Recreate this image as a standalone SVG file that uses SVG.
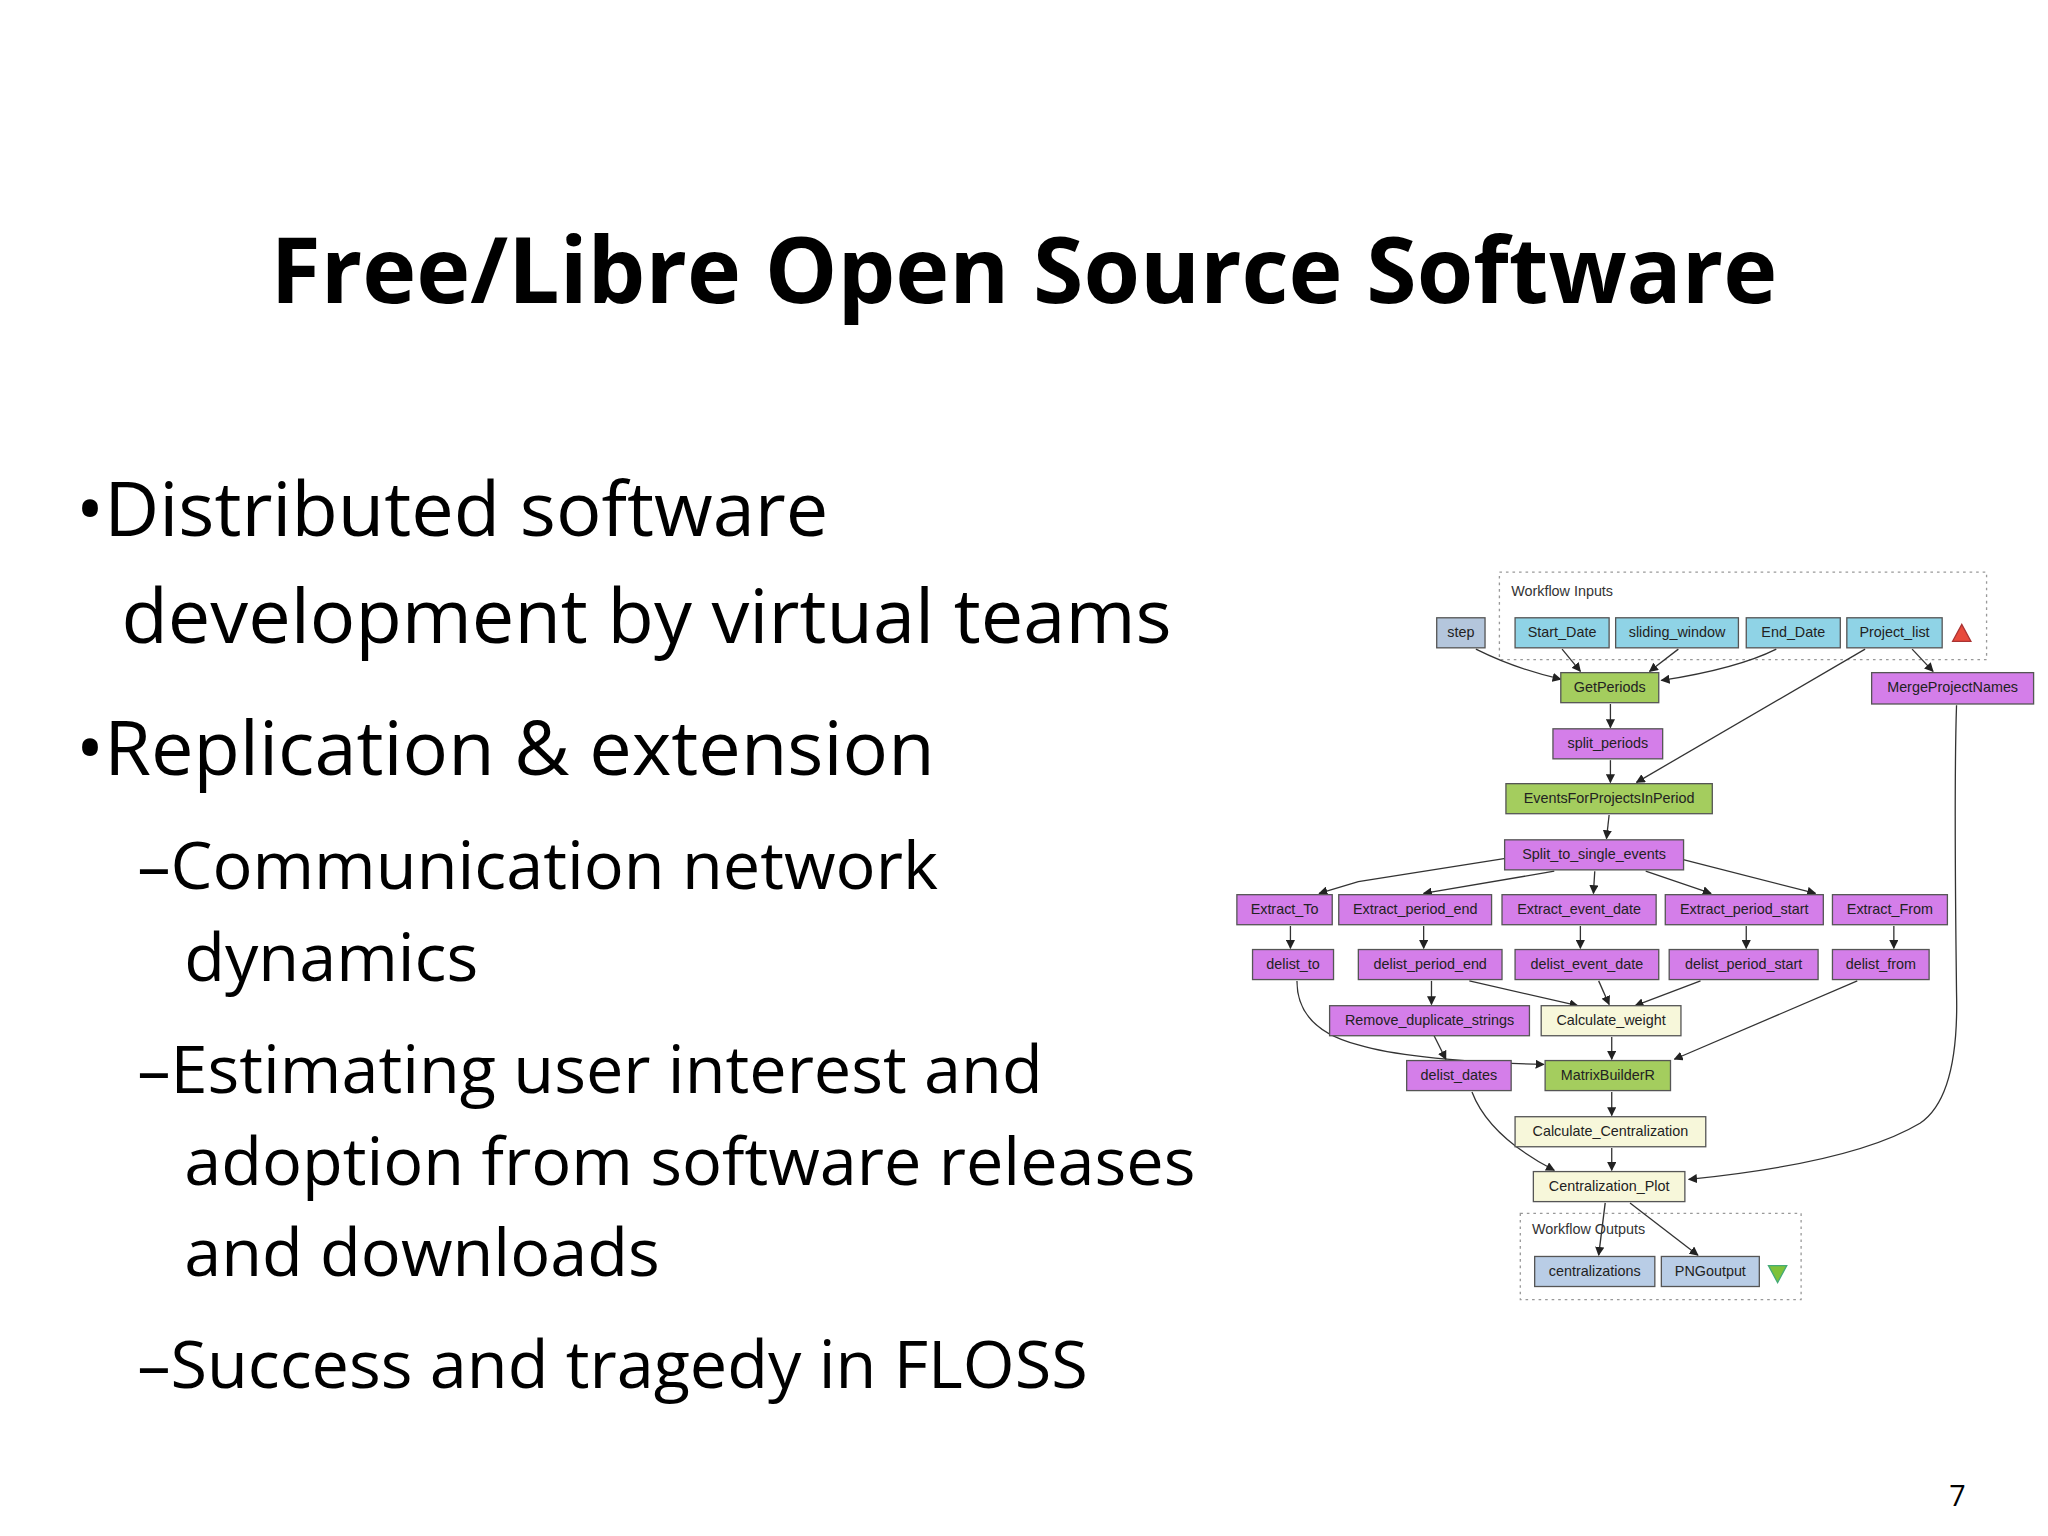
<svg xmlns="http://www.w3.org/2000/svg" width="2048" height="1536" viewBox="0 0 2048 1536">
<style>
.t{font-family:"Open Sans","Noto Sans",sans-serif;fill:#000}
.n rect{stroke:#555;stroke-width:1}
.n text{font-family:"Liberation Sans",Arial,sans-serif;font-size:11px;fill:#222;text-anchor:middle}
.in rect{fill:#8fd3e6}.st rect{fill:#b4c6dc}.g rect{fill:#a4cd5e}.m rect{fill:#d47ee9}.y rect{fill:#f7f7da}.o rect{fill:#b9cde6}
.e path{fill:none;stroke:#333;stroke-width:1;marker-end:url(#a)}
.cl{fill:none;stroke:#999;stroke-width:1;stroke-dasharray:2 3}
</style>
<defs><marker id="a" viewBox="0 0 10 10" refX="9" refY="5" markerWidth="7" markerHeight="7" orient="auto" markerUnits="userSpaceOnUse"><path d="M0,0L10,5L0,10z" fill="#222"/></marker></defs>
<rect width="2048" height="1536" fill="#fff"/>
<g transform="scale(1.3061)">
<text class="t" x="784" y="232" font-size="70" font-weight="bold" text-anchor="middle">Free/Libre Open Source Software</text>
<g class="t" font-size="58">
<text x="58" y="410">•Distributed software</text>
<text x="93" y="492">development by virtual teams</text>
<text x="58" y="593">•Replication &amp; extension</text>
</g>
<g class="t" font-size="51">
<text x="105" y="681">–Communication network</text>
<text x="141" y="751">dynamics</text>
<text x="105" y="837">–Estimating user interest and</text>
<text x="141" y="907">adoption from software releases</text>
<text x="141" y="977">and downloads</text>
<text x="105" y="1063">–Success and tragedy in FLOSS</text>
</g>
<text class="t" x="1505" y="1153" font-size="22" text-anchor="end">7</text>

<g id="clusters">
<rect class="cl" x="1148" y="438" width="373" height="67"/>
<text x="1157" y="456" font-family="Liberation Sans,Arial,sans-serif" font-size="11" fill="#333">Workflow Inputs</text>
<rect class="cl" x="1164" y="929" width="215" height="66"/>
<text x="1173" y="945" font-family="Liberation Sans,Arial,sans-serif" font-size="11" fill="#333">Workflow Outputs</text>
<path d="M1495,491L1502,478L1509,491z" fill="#e84a3c" stroke="#a33"/>
<path d="M1354,969L1368,969L1361,982z" fill="#7ec23a" stroke="#4a7"/>
</g>

<g class="e" id="edges">
<path d="M1130,497Q1160,512 1195,520"/>
<path d="M1196,497L1210,514"/>
<path d="M1285,497L1263,514"/>
<path d="M1360,497Q1330,512 1272,521"/>
<path d="M1464,497L1480,514"/>
<path d="M1428,497L1253,599"/>
<path d="M1233,539L1233,557"/>
<path d="M1233,582L1233,599"/>
<path d="M1232,624L1230,642"/>
<path d="M1160,656L1040,675L1010,684"/>
<path d="M1190,667L1090,684"/>
<path d="M1221,667L1220,684"/>
<path d="M1260,667L1310,684"/>
<path d="M1288,658L1390,684"/>
<path d="M988,709L988,726"/>
<path d="M1090,709L1090,726"/>
<path d="M1210,709L1210,726"/>
<path d="M1337,709L1337,726"/>
<path d="M1450,709L1450,726"/>
<path d="M993,751Q993,788 1040,800Q1080,812 1182,815"/>
<path d="M1096,751L1096,769"/>
<path d="M1125,751L1208,770"/>
<path d="M1224,751L1232,769"/>
<path d="M1302,751L1252,770"/>
<path d="M1422,751L1282,811"/>
<path d="M1098,793L1107,811"/>
<path d="M1234,794L1234,811"/>
<path d="M1234,836L1234,854"/>
<path d="M1234,879L1234,896"/>
<path d="M1127,836Q1140,870 1190,896"/>
<path d="M1498,540Q1496,600 1498,760Q1500,840 1470,860Q1420,890 1293,903"/>
<path d="M1229,921L1224,961"/>
<path d="M1248,921L1300,961"/>
</g>

<g id="nodes">
<g id="step" class="n st"><rect x="1100" y="473" width="37" height="23"/><text x="1118.5" y="488">step</text></g>
<g id="Start_Date" class="n in"><rect x="1160" y="473" width="72" height="23"/><text x="1196" y="488">Start_Date</text></g>
<g id="sliding_window" class="n in"><rect x="1237" y="473" width="94" height="23"/><text x="1284" y="488">sliding_window</text></g>
<g id="End_Date" class="n in"><rect x="1337" y="473" width="72" height="23"/><text x="1373" y="488">End_Date</text></g>
<g id="Project_list" class="n in"><rect x="1414" y="473" width="73" height="23"/><text x="1450.5" y="488">Project_list</text></g>
<g id="GetPeriods" class="n g"><rect x="1195" y="515" width="75" height="23"/><text x="1232.5" y="530">GetPeriods</text></g>
<g id="MergeProjectNames" class="n m"><rect x="1433" y="515" width="124" height="24"/><text x="1495" y="530">MergeProjectNames</text></g>
<g id="split_periods" class="n m"><rect x="1189" y="558" width="84" height="23"/><text x="1231" y="573">split_periods</text></g>
<g id="EventsForProjectsInPeriod" class="n g"><rect x="1153" y="600" width="158" height="23"/><text x="1232" y="615">EventsForProjectsInPeriod</text></g>
<g id="Split_to_single_events" class="n m"><rect x="1152" y="643" width="137" height="23"/><text x="1220.5" y="658">Split_to_single_events</text></g>
<g id="Extract_To" class="n m"><rect x="947" y="685" width="73" height="23"/><text x="983.5" y="700">Extract_To</text></g>
<g id="Extract_period_end" class="n m"><rect x="1025" y="685" width="117" height="23"/><text x="1083.5" y="700">Extract_period_end</text></g>
<g id="Extract_event_date" class="n m"><rect x="1150" y="685" width="118" height="23"/><text x="1209" y="700">Extract_event_date</text></g>
<g id="Extract_period_start" class="n m"><rect x="1275" y="685" width="121" height="23"/><text x="1335.5" y="700">Extract_period_start</text></g>
<g id="Extract_From" class="n m"><rect x="1403" y="685" width="88" height="23"/><text x="1447" y="700">Extract_From</text></g>
<g id="delist_to" class="n m"><rect x="959" y="727" width="62" height="23"/><text x="990" y="742">delist_to</text></g>
<g id="delist_period_end" class="n m"><rect x="1040" y="727" width="110" height="23"/><text x="1095" y="742">delist_period_end</text></g>
<g id="delist_event_date" class="n m"><rect x="1160" y="727" width="110" height="23"/><text x="1215" y="742">delist_event_date</text></g>
<g id="delist_period_start" class="n m"><rect x="1278" y="727" width="114" height="23"/><text x="1335" y="742">delist_period_start</text></g>
<g id="delist_from" class="n m"><rect x="1403" y="727" width="74" height="23"/><text x="1440" y="742">delist_from</text></g>
<g id="Remove_duplicate_strings" class="n m"><rect x="1018" y="770" width="153" height="23"/><text x="1094.5" y="785">Remove_duplicate_strings</text></g>
<g id="Calculate_weight" class="n y"><rect x="1180" y="770" width="107" height="23"/><text x="1233.5" y="785">Calculate_weight</text></g>
<g id="delist_dates" class="n m"><rect x="1077" y="812" width="80" height="23"/><text x="1117" y="827">delist_dates</text></g>
<g id="MatrixBuilderR" class="n g"><rect x="1183" y="812" width="96" height="23"/><text x="1231" y="827">MatrixBuilderR</text></g>
<g id="Calculate_Centralization" class="n y"><rect x="1160" y="855" width="146" height="23"/><text x="1233" y="870">Calculate_Centralization</text></g>
<g id="Centralization_Plot" class="n y"><rect x="1174" y="897" width="116" height="23"/><text x="1232" y="912">Centralization_Plot</text></g>
<g id="centralizations" class="n o"><rect x="1175" y="962" width="92" height="23"/><text x="1221" y="977">centralizations</text></g>
<g id="PNGoutput" class="n o"><rect x="1272" y="962" width="75" height="23"/><text x="1309.5" y="977">PNGoutput</text></g>
</g>
</g>
</svg>
